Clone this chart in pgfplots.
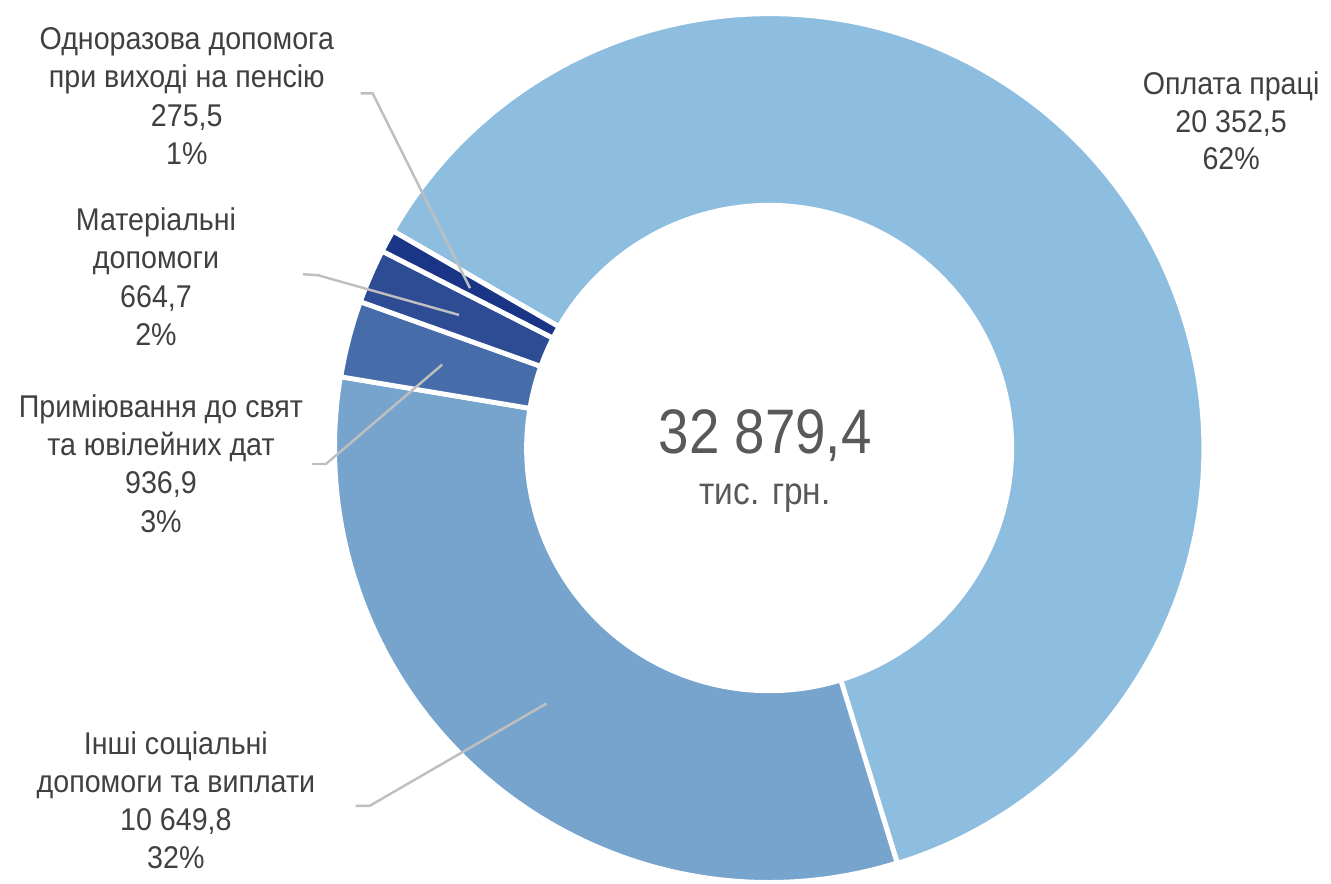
\documentclass[border=0pt]{standalone}
\usepackage{pgfplots}
\pgfplotsset{compat=1.18}
\usepackage{pgfplotstable}
\usepackage{fontspec}
\setmainfont[FakeStretch=0.91]{Liberation Sans}
\newfontfamily\ctrfont[FakeStretch=0.87]{Liberation Sans}

\definecolor{cOpl}{HTML}{8DBDDF}
\definecolor{cInsh}{HTML}{76A4CD}
\definecolor{cPrem}{HTML}{466CA9}
\definecolor{cMat}{HTML}{2D4C94}
\definecolor{cOdn}{HTML}{1A3585}
\definecolor{txt}{HTML}{404040}
\definecolor{ctr}{HTML}{595959}
\definecolor{lead}{HTML}{BFBFBF}

% values in thousand UAH, clockwise from the top-left
\pgfplotstableread[col sep=comma]{
key,value,color
opl,20352.5,cOpl
insh,10649.8,cInsh
prem,936.9,cPrem
mat,664.7,cMat
odn,275.5,cOdn
}\donut

\newcommand{\lbl}[3]{\node[anchor=base,text=txt,font=\fontsize{9pt}{10pt}\selectfont] at (#1,#2) {#3};}

\begin{document}
\begin{tikzpicture}
\begin{axis}[
    x=0.01cm, y=0.01cm,
    xmin=0, xmax=1331, ymin=0, ymax=889,
    scale only axis,
    hide axis,
    clip=false,
]
\path (0,0) rectangle (1331,889);

\pgfplotsextra{
  \def\cx{774}\def\cy{438}
  \def\total{0}
  \pgfplotsforeachungrouped \i in {0,...,4}{%
    \pgfplotstablegetelem{\i}{value}\of\donut
    \edef\total{\fpeval{\total+\pgfplotsretval}}%
  }%
  \def\ang{150}
  \pgfplotsforeachungrouped \i in {0,...,4}{%
    \pgfplotstablegetelem{\i}{value}\of\donut
    \edef\nxt{\fpeval{\ang-360*\pgfplotsretval/\total}}%
    \pgfplotstablegetelem{\i}{color}\of\donut
    \edef\col{\pgfplotsretval}%
    \fill[overlay,\col,draw=white,line width=1.4pt,line join=miter]
      ({\cx+437*cos(\ang)},{\cy+437*sin(\ang)})
      arc[start angle=\ang,end angle=\nxt,radius=4.37cm]
      -- ({\cx+244*cos(\nxt)},{\cy+244*sin(\nxt)})
      arc[start angle=\nxt,end angle=\ang,radius=2.44cm]
      -- cycle;
    \let\ang\nxt
  }%
}

% leader lines
\draw[lead,line width=0.7pt] (363,795) -- (375,795) -- (473,599);
\draw[lead,line width=0.7pt] (305,613) -- (320,612) -- (462,572);
\draw[lead,line width=0.7pt] (314,422) -- (328,422) -- (445,522);
\draw[lead,line width=0.7pt] (358,78) -- (372,78) -- (550,181);

% labels
\lbl{188}{839}{Одноразова допомога}
\lbl{188}{800.5}{при виході на пенсію}
\lbl{188}{762}{275,5}
\lbl{188}{723.5}{1\%}

\lbl{157}{657}{Матеріальні}
\lbl{157}{618.5}{допомоги}
\lbl{157}{580}{664,7}
\lbl{157}{541.5}{2\%}

\lbl{162}{469}{Приміювання до свят}
\lbl{162}{430.5}{та ювілейних дат}
\lbl{162}{392}{936,9}
\lbl{162}{353.5}{3\%}

\lbl{177}{130}{Інші соціальні}
\lbl{177}{91.5}{допомоги та виплати}
\lbl{177}{53}{10 649,8}
\lbl{177}{14.5}{32\%}

\lbl{1239}{794}{Оплата праці}
\lbl{1239}{756}{20 352,5}
\lbl{1239}{718}{62\%}

% centre
\node[anchor=base,text=ctr,font=\ctrfont\fontsize{18pt}{20pt}\selectfont] at (770,433) {32 879,4};
\node[anchor=base,text=ctr,font=\ctrfont\fontsize{11pt}{13pt}\selectfont] at (770,381) {тис. грн.};
\end{axis}
\end{tikzpicture}
\end{document}
